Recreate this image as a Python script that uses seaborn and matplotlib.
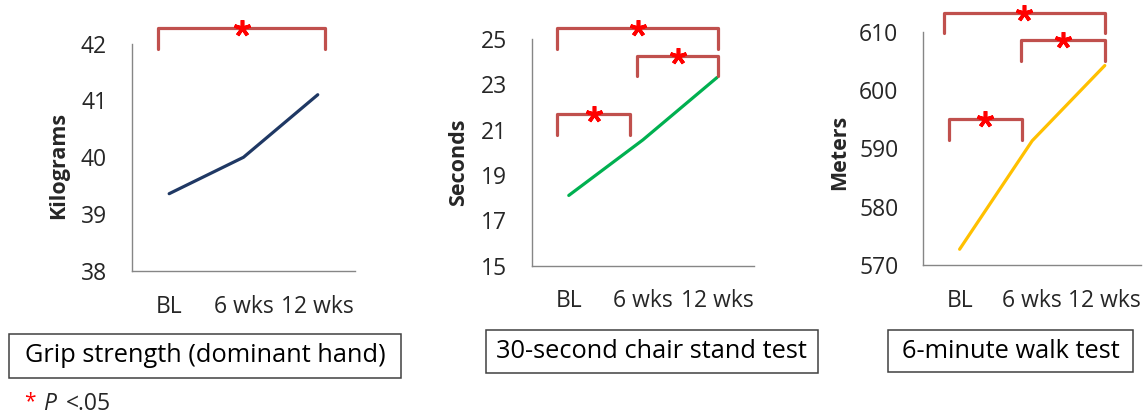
import seaborn as sns
import matplotlib.pyplot as plt
import matplotlib.patches as patches

# Стиль
sns.set_style("white")
plt.rcParams['font.family'] = ['Open Sans', 'DejaVu Sans']

# Данные
timepoints = ['BL', '6 wks', '12 wks']
grip = [39.36, 40.0, 41.1]
chair = [18.1, 20.55, 23.3]
walk = [572.7, 591.3, 604.2]

titles = ['Grip strength (dominant hand)', '30-second chair stand test', '6-minute walk test']
ylabels = ['Kilograms', 'Seconds', 'Meters']
colors = ['#1F3864', '#00B050', '#FFC000']
ylims = [(38, 42), (15, 25), (570, 610)]
ysteps = [1, 2, 10]

# скобки значимости: (x слева, x справа, низ ножек, верх)
brackets = [
    [(-0.15, 2.1, 41.9, 42.27)],
    [(-0.16, 2.02, 24.56, 25.47), (0.92, 2.02, 23.37, 24.26), (-0.16, 0.83, 20.77, 21.69)],
    [(-0.22, 2.0, 609.7, 613.16), (0.85, 2.0, 605.0, 608.58), (-0.15, 0.86, 591.4, 594.97)],
]

# положение осей в долях фигуры
axes_pos = [
    [0.1155, 0.350, 0.195, 0.5456],
    [0.4652, 0.3628, 0.1945, 0.5437],
    [0.8078, 0.3645, 0.1905, 0.5595],
]
label_x = [-0.33, -0.327, -0.383]
label_y = [0.466, 0.457, 0.484]

# рамки подписей (пиксели: x0, x1, y0, y1)
boxes = [(9.3, 401, 334, 378), (486, 817.7, 330, 372.7), (887.7, 1133.3, 330, 372.3)]

W, H = 1143, 417
fig = plt.figure(figsize=(W / 100, H / 100), dpi=100)

for i, values in enumerate([grip, chair, walk]):
    ax = fig.add_axes(axes_pos[i])
    sns.lineplot(x=timepoints, y=values, ax=ax, color=colors[i], linewidth=2.3)
    ax.set_xlim(-0.5, 2.5)
    lo, hi = ylims[i]
    ax.set_ylim(lo, hi)
    ax.set_yticks(range(lo, hi + 1, ysteps[i]))

    ax.set_xticks([-0.5, 0.5, 1.5, 2.5])
    ax.set_xticklabels([])
    ax.set_xticks([0, 1, 2], minor=True)
    ax.set_xticklabels(timepoints, minor=True)
    ax.tick_params(axis='x', which='major', length=6, width=1, color='#868686', direction='out')
    ax.tick_params(axis='x', which='minor', length=0, pad=17, labelsize=16.5)
    ax.tick_params(axis='y', length=8, width=1, color='#868686', direction='out', pad=10, labelsize=16.5)

    for s in ['top', 'right']:
        ax.spines[s].set_visible(False)
    for s in ['left', 'bottom']:
        ax.spines[s].set_color('#868686')
        ax.spines[s].set_linewidth(1.0)

    ax.set_xlabel('')
    ax.set_ylabel(ylabels[i], fontsize=15.5, fontweight='bold', va='center')
    ax.yaxis.set_label_coords(label_x[i], label_y[i])

    for x0, x1, yb, yt in brackets[i]:
        ax.plot([x0, x0, x1, x1], [yb, yt, yt, yb], color='#C0504D', lw=2.3,
                solid_joinstyle='round', clip_on=False, zorder=3)
        ax.plot((x0 + x1) / 2, yt, marker=(5, 2, 0), ms=12, mew=2.6,
                color='red', clip_on=False, zorder=4)

    # подпись в рамке
    x0, x1, y0, y1 = boxes[i]
    rect = patches.Rectangle((x0 / W, 1 - y1 / H), (x1 - x0) / W, (y1 - y0) / H,
                             transform=fig.transFigure, fill=False, ec='#404040', lw=1.1)
    fig.add_artist(rect)
    fig.text((x0 + x1) / 2 / W, 1 - (y0 + y1) / 2 / H, titles[i], ha='center', va='center',
             fontsize=18.3, color='black')

# сноска
fig.text(24 / W, 1 - 407 / H, '*', color='red', fontsize=15, va='baseline')
fig.text(43 / W, 1 - 410 / H, 'P', fontsize=16.5, style='italic', va='baseline')
fig.text(66 / W, 1 - 410 / H, '<.05', fontsize=16.5, va='baseline')

plt.savefig('out.png', dpi=100)
